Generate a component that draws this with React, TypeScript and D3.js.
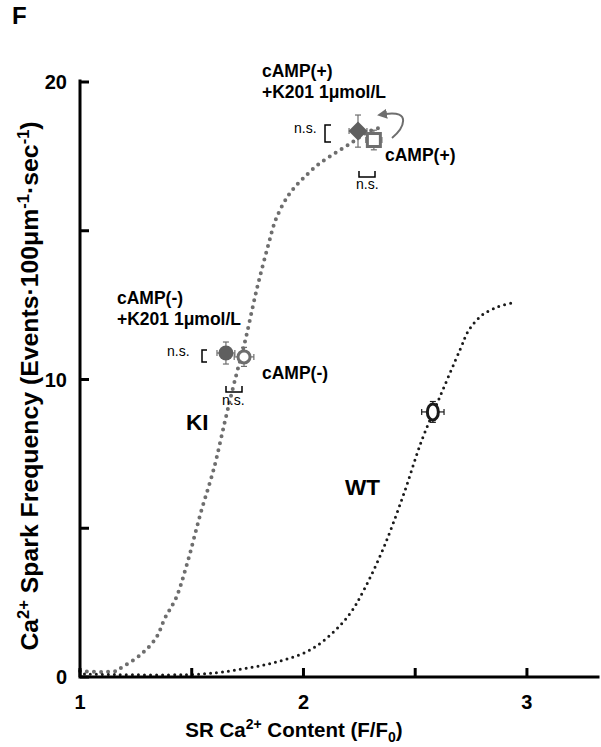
import * as d3 from 'd3';

// fitted curves: [SR Ca content, spark frequency]
const kiCurve: [number, number][] = [
  [1.0, 0.2], [1.16, 0.2], [1.19, 0.34], [1.27, 0.74], [1.34, 1.31], [1.38, 1.98],
  [1.43, 2.66], [1.48, 3.83], [1.54, 5.51], [1.6, 7.03], [1.65, 8.64], [1.69, 9.88],
  [1.74, 11.33], [1.79, 13.0], [1.84, 14.45], [1.88, 15.45], [1.94, 16.27], [2.0, 16.77],
  [2.07, 17.25], [2.15, 17.65], [2.22, 17.98], [2.28, 18.29], [2.35, 18.49]
];
const wtCurve: [number, number][] = [
  [1.02, 0.1], [1.54, 0.1], [1.78, 0.34], [1.91, 0.57], [2.03, 0.91], [2.13, 1.48],
  [2.21, 2.15], [2.27, 2.92], [2.36, 4.37], [2.45, 6.18], [2.53, 7.97], [2.61, 9.41],
  [2.7, 10.99], [2.74, 11.66], [2.8, 12.17], [2.87, 12.44], [2.93, 12.57]
];

// measured points with SEM
const pointIds = ['kiMinusK201', 'kiMinus', 'kiPlusK201', 'kiPlus', 'wt'];
const pointX = [1.653, 1.734, 2.244, 2.315, 2.579];
const pointY = [10.89, 10.76, 18.35, 18.05, 8.91];
const pointXErr = [0.04, 0.044, 0.04, 0.036, 0.05];
const pointYErr = [0.37, 0.32, 0.54, 0.33, 0.35];
const pointShape = ['circle', 'circle', 'diamond', 'square', 'ellipse'];
const pointFilled = [true, false, true, false, false];

const xTicks = [1, 1.5, 2, 2.5, 3];
const xTickLabels = ['1', '', '2', '', '3'];
const yTicks = [0, 5, 10, 15, 20];
const yTickLabels = ['0', '', '10', '', '20'];

const FONT = '"Liberation Sans", Arial, sans-serif';
const KI_COLOR = '#6e6e6e';
const WT_COLOR = '#1a1a1a';

export default function App() {
  const width = 601;
  const height = 747;
  const x = d3.scaleLinear().domain([1, 3.318]).range([80, 598]);
  const y = d3.scaleLinear().domain([0, 20]).range([677, 82]);
  const line = d3.line<[number, number]>()
    .x(d => x(d[0]))
    .y(d => y(d[1]))
    .curve(d3.curveCatmullRom.alpha(0.5));

  const x0 = x(1);
  const y0 = y(0);

  const renderMarker = (i: number) => {
    const cx = x(pointX[i]);
    const cy = y(pointY[i]);
    const color = pointIds[i] === 'wt' ? WT_COLOR : KI_COLOR;
    const fill = pointFilled[i] ? '#5f5f5f' : '#ffffff';
    const xl = x(pointX[i] - pointXErr[i]);
    const xr = x(pointX[i] + pointXErr[i]);
    const yt = y(pointY[i] + pointYErr[i]);
    const yb = y(pointY[i] - pointYErr[i]);
    const cap = 3;
    let shape;
    if (pointShape[i] === 'circle') {
      shape = pointFilled[i]
        ? <circle cx={cx} cy={cy} r={7.5} fill={fill} />
        : <circle cx={cx} cy={cy} r={6} fill={fill} stroke={color} strokeWidth={3} />;
    } else if (pointShape[i] === 'diamond') {
      const s = 9.5;
      shape = <path d={`M${cx},${cy - s}L${cx + s},${cy}L${cx},${cy + s}L${cx - s},${cy}Z`} fill={fill} />;
    } else if (pointShape[i] === 'square') {
      const s = 6.5;
      shape = <rect x={cx - s} y={cy - s} width={2 * s} height={2 * s} fill={fill} stroke={color} strokeWidth={3} />;
    } else {
      shape = <ellipse cx={cx} cy={cy} rx={5.5} ry={8} fill={fill} stroke={color} strokeWidth={3} />;
    }
    return (
      <g key={pointIds[i]}>
        <g stroke={color} strokeWidth={1.2} fill="none">
          <line x1={xl} x2={xr} y1={cy} y2={cy} />
          <line x1={cx} x2={cx} y1={yt} y2={yb} />
          <line x1={xl} x2={xl} y1={cy - cap} y2={cy + cap} />
          <line x1={xr} x2={xr} y1={cy - cap} y2={cy + cap} />
          <line x1={cx - cap} x2={cx + cap} y1={yt} y2={yt} />
          <line x1={cx - cap} x2={cx + cap} y1={yb} y2={yb} />
        </g>
        {shape}
      </g>
    );
  };

  return (
    <div style={{ position: 'absolute', left: 0, top: 0 }}>
      <svg width={width} height={height} style={{ display: 'block', background: '#fff' }} fontFamily={FONT}>
        <defs>
          <marker id="arrowHead" viewBox="0 0 10 10" refX="2" refY="5" markerWidth="5" markerHeight="5" orient="auto-start-reverse">
            <path d="M0,0L10,5L0,10Z" fill={KI_COLOR} />
          </marker>
        </defs>

        <text x={12} y={24} fontSize={24} fontWeight="bold">F</text>

        {/* curves */}
        <path d={line(kiCurve) || ''} fill="none" stroke={KI_COLOR} strokeWidth={4} strokeLinecap="round" strokeDasharray="0 7" />
        <path d={line(wtCurve) || ''} fill="none" stroke={WT_COLOR} strokeWidth={3} strokeLinecap="round" strokeDasharray="0 6" />

        {/* axes */}
        <g stroke="#000" strokeWidth={3} fill="none">
          <path d={`M${x0},${y(20) - 1}V${y0}H${x.range()[1]}`} strokeLinecap="square" />
          {yTicks.map(t => <line key={'yt' + t} x1={x0} x2={x0 + 9} y1={y(t)} y2={y(t)} />)}
          {xTicks.map(t => <line key={'xt' + t} x1={x(t)} x2={x(t)} y1={y0} y2={y0 - 9} />)}
        </g>
        {yTicks.map((t, i) => (
          <text key={'yl' + t} x={67} y={y(t)} dy="0.36em" textAnchor="end" fontSize={20} fontWeight="bold">{yTickLabels[i]}</text>
        ))}
        {xTicks.map((t, i) => (
          <text key={'xl' + t} x={x(t)} y={709} textAnchor="middle" fontSize={20} fontWeight="bold">{xTickLabels[i]}</text>
        ))}

        {/* axis titles */}
        <text x={294} y={737} textAnchor="middle" fontSize={20.5} fontWeight="bold">
          SR Ca<tspan dy={-8} fontSize={14}>2+</tspan><tspan dy={8}> Content (F/F</tspan><tspan dy={5} fontSize={14}>0</tspan><tspan dy={-5}>)</tspan>
        </text>
        <text transform="translate(38,386) rotate(-90)" textAnchor="middle" fontSize={24.8} fontWeight="bold">
          Ca<tspan dy={-9} fontSize={16.5}>2+</tspan><tspan dy={9}> Spark Frequency (Events·100μm</tspan><tspan dy={-9} fontSize={16.5}>-1</tspan><tspan dy={9}>·sec</tspan><tspan dy={-9} fontSize={16.5}>-1</tspan><tspan dy={9}>)</tspan>
        </text>

        {/* data points */}
        {pointIds.map((_, i) => renderMarker(i))}

        {/* annotations */}
        <g fontWeight="bold" fontSize={17.5}>
          <text x={262} y={77}>cAMP(+)</text>
          <text x={262} y={98}>+K201 1μmol/L</text>
          <text x={385} y={161}>cAMP(+)</text>
          <text x={117} y={304}>cAMP(-)</text>
          <text x={117} y={325}>+K201 1μmol/L</text>
          <text x={262} y={379}>cAMP(-)</text>
        </g>
        <text x={186} y={430} fontWeight="bold" fontSize={22.5}>KI</text>
        <text x={345} y={495} fontWeight="bold" fontSize={22.5}>WT</text>

        <g fontSize={14}>
          <text x={294} y={133}>n.s.</text>
          <text x={356} y={189}>n.s.</text>
          <text x={167} y={356}>n.s.</text>
          <text x={222} y={405}>n.s.</text>
        </g>
        <g stroke="#000" strokeWidth={1.5} fill="none">
          <path d="M331,125H325V142H331" />
          <path d="M359,171V177H375V171" />
          <path d="M207,350H202V362H207" />
          <path d="M226,386V392H242V386" />
        </g>
        <path d="M392,138C404,128 412,110 385,114" fill="none" stroke={KI_COLOR} strokeWidth={2} markerEnd="url(#arrowHead)" />
      </svg>
    </div>
  );
}
